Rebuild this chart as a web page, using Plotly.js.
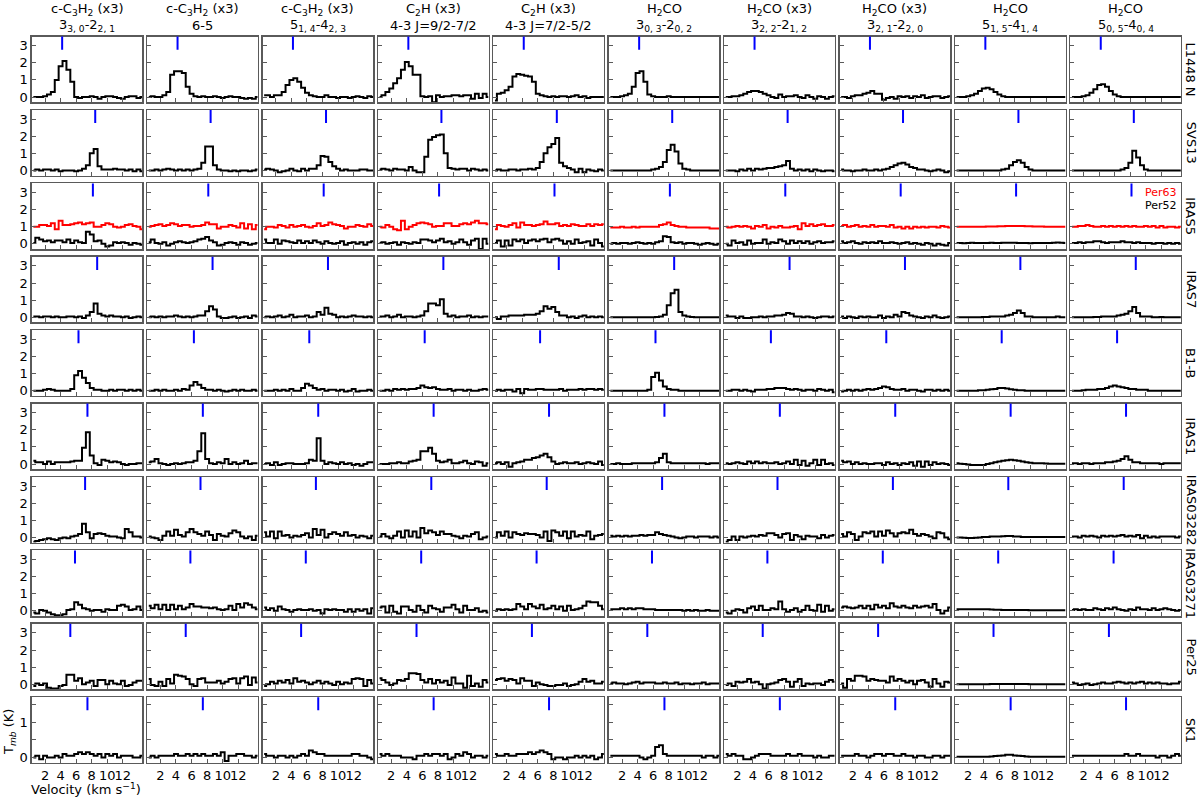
<!DOCTYPE html>
<html>
<head>
<meta charset="utf-8">
<script src="https://cdn.plot.ly/plotly-3.0.1.min.js"></script>
<style>html,body{margin:0;padding:0;background:#fff}#chart{width:1200px;height:800px}</style>
</head>
<body>
<div id="chart"></div>
<script>
// ---------------- DATA ----------------
const sources = ['L1448 N','SVS13','IRAS5','IRAS7','B1-B','IRAS1','IRAS03282','IRAS03271','Per25','SK1'];
const vlsr = [4.2, 8.45, 8.15, 8.7, 6.3, 7.45, 7.15, 5.85, 5.25, 7.45];
const transLine1 = ['c-C<sub>3</sub>H<sub>2</sub> (x3)','c-C<sub>3</sub>H<sub>2</sub> (x3)','c-C<sub>3</sub>H<sub>2</sub> (x3)','C<sub>2</sub>H (x3)','C<sub>2</sub>H (x3)','H<sub>2</sub>CO','H<sub>2</sub>CO (x3)','H<sub>2</sub>CO (x3)','H<sub>2</sub>CO','H<sub>2</sub>CO'];
const transLine2 = ['3<sub>3, 0</sub>-2<sub>2, 1</sub>','6-5','5<sub>1, 4</sub>-4<sub>2, 3</sub>','4-3 J=9/2-7/2','4-3 J=7/2-5/2','3<sub>0, 3</sub>-2<sub>0, 2</sub>','3<sub>2, 2</sub>-2<sub>1, 2</sub>','3<sub>2, 1</sub>-2<sub>2, 0</sub>','5<sub>1, 5</sub>-4<sub>1, 4</sub>','5<sub>0, 5</sub>-4<sub>0, 4</sub>'];
const xTicks = [2,4,6,8,10,12];
const yTicks = [0,1,2,3];
const yTicksSK1 = [0,0.5,1,1.5];
const yTickTextSK1 = ['0','','1',''];
const velocity = [0.5,1,1.5,2,2.5,3,3.5,4,4.5,5,5.5,6,6.5,7,7.5,8,8.5,9,9.5,10,10.5,11,11.5,12,12.5,13,13.5,14,14.5];

const specL1448N = [
 [0,0,0,0.05,0.15,0.3,1.0,1.8,2.1,1.6,0.9,0,-0.05,0,0,0.05,0,-0.1,0,0.05,0.05,0,-0.05,-0.1,0,0.05,0.05,-0.05,0],
 [0,0.05,0,0,0.1,0.3,1.3,1.5,1.5,1.4,0.6,0.2,0.05,0,0.05,0,0,0.05,0,-0.05,0,0.05,0,0,-0.05,-0.1,-0.05,-0.1,0],
 [0.1,0.1,0,0.1,0.1,0.3,0.7,1.0,1.1,0.9,0.55,0.25,0.1,0.05,0,0,0.1,0,0,-0.05,0,0,-0.05,0,0.05,0,-0.05,0.05,0],
 [0,0.1,0.3,0.5,0.8,1.1,1.6,2.05,1.8,1.3,1.3,0.05,0,0.05,-0.3,0.1,0,0.05,0.05,0.1,0.1,0.05,0.1,0.1,-0.1,0.2,-0.05,0.2,0],
 [-0.2,0.2,0.25,0.4,0.6,1.2,1.35,1.3,1.25,1.2,0.9,0.2,0.1,0.05,0,0.05,0,0.05,0.05,0,0.05,0.1,0,0.05,-0.05,0,0,0,0],
 [0,0,0,0.05,0.1,0.2,0.6,1.4,1.5,0.9,0.15,0.05,0,0,0,0.05,0,0,0,0,0,0,0,0,0,0,0,0,0],
 [0,0,0.05,0.05,0.1,0.2,0.3,0.35,0.35,0.3,0.2,0.1,0,-0.05,0.15,0,0.05,0.05,0.1,0,-0.05,0.1,0,-0.1,0.05,0,-0.1,0,0.05],
 [0,0,-0.05,0.05,0.1,0.1,0.2,0.25,0.35,0.2,0.2,-0.15,-0.05,0,-0.1,0.05,0,0.05,-0.05,0.05,0,0.1,-0.05,0,0.05,0.05,-0.05,0,0.05],
 [0,0,0,0.05,0.1,0.2,0.35,0.5,0.55,0.45,0.3,0.15,0.05,0,0,0,0,0,0,0,0,0,0,0,0,0,0,0,0],
 [0,0,0,0.05,0.1,0.25,0.45,0.7,0.75,0.6,0.35,0.15,0.05,0,0,0,0,0,0,0,0,0,0,0,0,0,0,0,0]
];
const specSVS13 = [
 [0,0.05,0,0.05,0.05,0,0.05,-0.05,0,0,0,-0.05,0,0.1,0.3,1.0,1.25,0.25,0.05,0.05,0.05,0.1,0.05,0.05,0,0.05,-0.05,0.05,-0.05],
 [0,0,0.05,0,0.05,0.1,0.05,0,0.05,0,0.05,0,0.05,0.1,0.45,1.4,1.4,0.3,0.05,0,0,-0.05,0,-0.05,0,0,-0.05,0,0.05],
 [0.05,0.1,0.05,0,-0.1,-0.05,0,0.1,0,-0.05,0.1,0,0.1,0.1,0.3,0.85,0.8,0.5,0.25,0.1,0,0.05,0,0,0,0.05,0.05,0,0],
 [0.05,0.1,0.05,0,0.1,0.05,0.05,0,0.2,0,-0.1,-0.1,0.8,1.8,1.95,2.05,2.1,1.0,0.15,0.1,0.05,0.1,0.1,0,0.1,0.05,0,0.05,0],
 [0,0.05,0,0,0.05,0.05,0,0.05,0.05,0.1,0.05,0.15,0.5,1.0,1.35,1.55,1.9,0.45,0.25,0.15,0.05,-0.1,0.1,-0.1,0.05,0,-0.05,0.05,0],
 [0,0,0,0,0,0,0,0,0,0,0,0.05,0.1,0.2,0.5,1.2,1.5,1.1,0.4,0.1,0.05,0,0,0,0,0,0,0,0],
 [0,0,0,-0.05,0.05,0,0.1,0,0.1,0.05,0.1,0.15,0.15,0.2,0.25,0.3,0.55,0.1,0,0.05,0,0.05,-0.05,0.05,0,-0.05,0,0,-0.05],
 [0.05,0,0,-0.05,0,0,0.05,0,0,0.05,0,0.05,0.1,0.2,0.3,0.4,0.45,0.35,0.2,0.15,0.05,0.05,0,-0.05,0,0.05,0,-0.1,-0.05],
 [0,0,0,0,0,0,0,0,0,0,0,0,0.05,0.1,0.3,0.5,0.6,0.45,0.2,0.05,0,0,0,0,0,0,0,0,0],
 [0,0,0,0,0,0,0,0,0,0,0,0,0,0.05,0.15,0.45,1.15,0.75,0.3,0.05,0,0,0,0,0,0,0,0,0]
];
const specPer52 = [
 [0.05,0.35,0.25,0.15,0.2,0.1,0.2,0.2,0.1,0.25,0.05,0.2,0.1,0.05,0.7,0.55,0.15,0.2,0,-0.15,-0.1,0.1,0.05,0.1,0.05,-0.05,0.05,0,-0.05],
 [0.1,0.25,0.05,0,0.1,-0.1,0,0.1,0.15,0.1,0.05,0.1,0.15,0.25,0.3,0.4,0.2,0.1,-0.1,-0.05,0.05,0.1,0.05,-0.05,0.1,0.05,-0.05,0,0.05],
 [0.25,0.05,0.05,0.25,0,0.2,0.15,0.1,0.05,0.2,0.05,0.15,0.05,0.2,0.1,0,0.15,0.05,0,0.05,0.15,-0.05,0.05,0.1,0,0.1,-0.05,0.1,0.15],
 [0.05,0.1,0,0.05,0.1,-0.05,0.1,0.05,0,0.1,0.05,0.25,0.25,0.2,0.1,0.2,0.3,0.1,0.15,0,0.1,0.25,0.1,-0.05,0.2,0.3,-0.3,0.3,0],
 [0.05,0.2,-0.15,0.2,-0.1,0.25,0.15,0.25,0.05,0.2,0.25,0.15,0.25,0.3,0.1,0.25,0.3,0.2,0,0.15,0,0.25,0.05,0.1,0.15,-0.1,0.25,0.05,-0.15],
 [0,0.05,0,0.05,0.05,0,0.05,0.1,0.05,0,0.05,0,0.1,0.15,0.45,0.4,0.1,0.05,0.1,0,0.05,0.05,0,-0.05,0,0.05,0,-0.05,0],
 [0,-0.1,0.2,0.05,0.1,-0.05,0.2,0,0.05,0.05,0.25,0,0.1,0.05,0.25,0.15,0,0.2,0.05,0.15,0.05,0.15,0,0.1,0.15,0.05,0.1,0.1,0.15],
 [0.15,0.05,0.1,0.15,0.05,0,0.1,0.05,0.1,0.05,0.15,0.05,0.05,0.1,0.05,0,0.05,0.1,0,0.05,0,-0.05,0.05,0,-0.1,0,-0.05,-0.1,0.05],
 [0.05,0.05,0.04,0.05,0.06,0.05,0.05,0.05,0.05,0.06,0.05,0.05,0.06,0.06,0.07,0.06,0.05,0.05,0.05,0.04,0.05,0.05,0.05,0.05,0.05,0.06,0.08,0.06,0.05],
 [0.05,0.05,0.1,0.05,0.1,0.1,0.15,0.15,0.1,0.05,0.1,0.1,0.1,0.15,0.1,0.1,0.05,0.1,0.05,0.05,0.05,0,0.05,0.05,0,0.05,0,0.05,0]
];
const specPer63 = [
 [1.0,1.0,1.1,1.1,1.05,1.2,0.85,1.35,1.1,1.1,1.15,1.2,1.25,1.15,1.2,1.25,1.0,1.0,1.1,1.2,1.15,1.0,0.95,1.0,1.1,1.15,1.05,1.0,0.85],
 [1.0,1.05,1.1,1.15,1.05,1.1,1.2,1.15,1.05,1.1,1.1,1.0,1.05,1.05,1.1,1.25,1.15,1.15,0.9,1.0,1.0,1.1,1.05,0.95,1.2,0.9,1.15,0.85,1.1],
 [0.85,1.0,1.0,0.95,1.1,1.05,0.95,1.1,1.0,1.05,1.1,1.0,0.95,1.05,1.2,1.05,1.1,1.25,1.15,1.1,1.05,0.9,1.0,1.0,1.1,1.05,1.0,1.15,1.05],
 [1.0,0.95,1.1,1.0,0.85,0.8,1.35,0.85,1.0,1.1,1.2,1.25,1.2,1.15,1.0,1.05,1.05,1.2,1.2,1.05,1.05,1.15,1.2,1.15,1.25,1.35,1.2,1.2,1.15],
 [0.85,1.1,1.05,1.0,1.1,1.2,0.95,1.25,1.1,1.1,1.05,1.1,1.15,1.3,1.15,1.15,1.2,1.05,1.1,1.05,1.15,1.1,1.05,1.05,1.15,1.05,1.15,1.1,1.15],
 [0.95,0.95,0.95,1.0,0.95,0.95,1.0,0.95,1.0,1.0,1.0,1.0,1.0,1.1,1.15,1.25,1.1,1.05,1.0,1.0,0.95,0.95,0.95,0.95,0.95,0.95,0.9,0.9,0.9],
 [1.0,0.95,1.0,1.05,1.0,1.05,1.0,0.9,1.05,1.0,1.1,0.9,1.0,0.95,1.05,0.95,0.95,1.0,1.05,0.85,1.2,1.05,1.15,1.05,1.1,1.15,1.05,1.05,1.1],
 [1.05,1.1,1.0,1.05,1.1,1.0,1.05,1.0,1.1,1.0,1.05,1.05,1.0,1.1,0.95,1.0,0.9,1.0,0.9,1.0,0.95,1.0,0.95,1.0,1.0,0.95,1.05,1.0,0.95],
 [1.0,1.0,1.0,1.0,1.0,1.0,1.0,1.0,1.02,1.02,1.02,1.03,1.03,1.04,1.05,1.05,1.05,1.04,1.03,1.03,1.02,1.02,1.01,1.0,1.0,1.0,1.0,1.0,1.0],
 [1.0,1.0,1.05,1.05,1.1,1.05,1.0,1.0,1.05,1.0,1.05,1.0,1.05,1.0,1.05,1.0,1.05,1.0,1.0,1.05,1.0,1.05,0.95,1.05,0.95,1.0,1.0,0.95,1.0]
];
const specIRAS7 = [
 [0.05,0.05,0,0.05,0.05,0,0.05,0,0,0.05,0.05,0,0.05,-0.05,0.1,0.3,0.8,0.2,0.1,0.05,0.1,0.05,0.05,0,0.05,-0.05,0,0.05,0],
 [0,0.05,0,0.05,0,0.05,0.05,0.1,0.05,0,0.05,0,0.05,0.1,0.1,0.35,0.65,0.45,0.05,-0.05,-0.05,0,0.05,-0.05,0,0.05,-0.05,0.1,0.05],
 [0,0.05,0,0.05,0.1,0,0.05,0.15,0,0.05,0.05,0.1,0,0.05,0.3,0.15,0.55,0.2,0.15,0,0.05,0,0.05,0.1,0.05,0.05,0,0.05,0],
 [0.05,0.05,0.1,0,0.05,0.15,0,0.05,0.05,0,0.05,0.1,0.35,0.8,0.8,0.7,1.05,0.2,0.05,0.1,0,0.05,0.05,0.1,0,0.05,0,0.05,0.05],
 [0,-0.1,0.05,0.05,0.1,0.1,0.1,0.1,0.15,0.15,0.15,0.2,0.35,0.65,0.5,0.6,0.3,0.1,0.1,0,0.05,-0.05,0.05,0.1,0,0.05,0,0.05,0],
 [0,0,0,0,0,0,0,0,0,0,0,0,0.02,0.05,0.15,0.7,1.4,1.6,0.3,0.1,0.05,0.02,0,0,0,0,0,0,0],
 [0.1,0.05,0.05,-0.05,0.05,-0.05,-0.05,0,0,0.05,0,0.05,0.05,0.1,0.1,0.15,0.25,0.2,0.05,0.05,0,0.05,0,-0.05,0,0.05,0.05,0,0.05],
 [0.05,-0.05,0.05,0,-0.05,0.05,0,0.05,0,0,0.1,-0.05,0.05,0,0.15,0.05,0.3,0.25,0.1,0.05,0,-0.05,0.05,0,0.1,0,-0.05,0,0.05],
 [0,0,0,0,0,0,0,0.02,0.02,0.05,0.05,0.05,0.05,0.1,0.15,0.25,0.4,0.25,0.05,0.05,0,0,0,0,0,0,0.05,0,0],
 [0,0,0,0,0,0,0.02,0.02,0.05,0.05,0.05,0.05,0.1,0.15,0.2,0.35,0.6,0.25,0.05,0.05,0.05,0,0,0.02,0,0,0,0,0]
];
const specB1B = [
 [0,0,0,0.05,0.1,0.05,0,0,0,0,0.1,0.9,1.15,0.75,0.45,0.15,0.05,0.05,0,0,0.05,0,0.05,0.05,0,0.05,0,0.05,0],
 [0,0,0.05,0,0.05,0,0,0.05,0,0.1,0.05,0.3,0.5,0.35,0.15,0.05,0.05,0,0.05,0,-0.05,0,0.05,0,0.05,0,0,0.05,0],
 [0,0,0,0.05,0,0.05,0,0.1,0,0,0.15,0.4,0.3,0.15,0.05,0.1,0,0.05,0.05,0,0.05,-0.05,0,0.1,-0.05,0,0,0.05,0],
 [0,0,0.05,0,0.1,0.05,0.1,0.05,0.1,0.1,0.15,0.3,0.2,0.15,0.2,0.1,0.05,0.05,0.1,0,0.05,0.05,0,0.05,0,0,0.05,0.1,0.05],
 [0,0.05,0,0.05,0.05,-0.05,0.1,-0.15,0.1,0.05,0.05,0.1,0.1,0.05,0.05,0.05,0.05,0.1,0,0.05,0.05,0.05,0.1,0.05,0.1,0.1,0.05,0.1,0.05],
 [0,0,0,0,0,0,0,0,0,0,0.05,0.8,1.05,0.6,0.25,0.1,0.05,0.05,0,0,0,0,0,0,0,0,0,0,0],
 [0,0,0.05,0.05,0,0.05,0,-0.05,0.05,0.05,0.05,0.1,0.1,0.15,0.15,0.15,0.1,0.05,0.1,0.05,0,0.05,0.05,0,0.1,0.05,0,0.05,-0.1],
 [-0.05,0,0.05,0,0.05,0,0.05,0.1,0.05,0.1,0.15,0.25,0.2,0.1,0.05,0.05,0.1,0,0.05,0.05,0,-0.05,0.05,0.05,0,0.05,0,0.05,0],
 [0,0,0,0,0,0,0.02,0.03,0.05,0.08,0.1,0.15,0.15,0.12,0.08,0.05,0.03,0.02,0,0,0,0,0,0,0,0,0,0,0],
 [0,0,0,0.02,0.05,0.05,0.05,0.1,0.1,0.15,0.25,0.3,0.25,0.2,0.15,0.1,0.1,0.05,0.05,0.05,0,0,0,0,0,0,0,0,0]
];
const specIRAS1 = [
 [0.2,0.1,0.1,0,0.15,0,0.1,0.1,0.1,0.1,0.15,0.2,0.2,0.95,1.85,0.5,0.05,-0.05,0.25,0.2,0.1,0.15,0.1,0,-0.05,0,0,0.05,0.05],
 [0.1,0.15,0.3,0.05,0,-0.05,0,0.05,0,0.05,0.1,0.1,0.2,0.75,1.8,0.3,0.05,0,0.1,0.05,0.3,0,0.1,0,0.05,0.2,0,0.05,0.05],
 [0,0.05,-0.05,0.1,-0.05,0,0.05,0.05,0,0,0,0.05,0.25,0.2,1.5,0.2,0,0.1,0.05,0,0.1,0,0.05,-0.05,0,-0.1,0,0.1,0.1],
 [0,0,0,0.05,0.05,0.1,0.05,0.05,0.15,0.2,0.25,0.75,0.75,0.95,0.6,0.2,0.1,0.15,0.25,0.05,0.05,0.1,0.2,0.05,0,0.15,0.1,-0.1,0.05],
 [0.05,0.1,0,0.1,-0.15,0.05,0.1,0.15,0.25,0.25,0.35,0.4,0.5,0.6,0.4,0.15,0,0.05,0.1,0.05,0.05,0.1,0,0.05,0.1,0.05,0,0.15,-0.05],
 [0,0,0.05,0,0,0,0.05,0.05,0.05,0.05,0.05,0.05,0.1,0.35,0.6,0.1,0.05,0.05,0.05,0.05,0.05,0.05,0.05,0.05,0.05,0,0.05,0.05,0.05],
 [0.05,0,0.05,0.1,0.05,0,0.15,0.05,0.15,0.05,0.1,0.05,0.05,0.1,0,0.05,0.15,0,0.25,-0.05,0.2,-0.1,0.05,0.25,-0.05,0.25,0,0.05,-0.05],
 [0.2,0.1,0.15,0,0.1,0,0.05,0,0,0.05,0.05,-0.05,0.1,0,0.05,-0.05,0.05,0,0.1,-0.1,0.15,-0.15,0.15,-0.05,0.1,0,0.05,0,-0.05],
 [0.05,0.02,0,-0.03,-0.05,-0.05,-0.05,-0.05,0,0.05,0.1,0.15,0.2,0.22,0.25,0.22,0.2,0.15,0.1,0.08,0.05,0.05,0.05,0.03,0.02,0.02,0.02,0.02,0.02],
 [0.05,0.05,0,0.05,0.05,0,0.05,0.05,0.05,0.1,0.1,0.15,0.2,0.3,0.45,0.25,0.1,0.1,0.05,0.05,0.05,0.05,0.05,0,0.05,0.05,0.05,0.05,0.05]
];
const specIRAS03282 = [
 [-0.25,-0.2,-0.15,-0.1,-0.05,-0.1,-0.15,-0.05,0,-0.05,0.05,0.1,0.2,0.8,0.3,-0.05,0.2,0.25,0.2,0.1,0.05,0.05,0,-0.05,0.5,0.3,0.05,0.05,0],
 [0.05,0,-0.05,-0.15,0.1,0.35,0.1,0.45,0.15,0.05,0.3,0.5,0.3,0.2,0.1,0.35,0.15,-0.15,0.2,0.1,0.05,0.25,0.4,0.3,0.05,-0.05,0.05,-0.15,0.1],
 [0.3,0.05,0.35,-0.05,0.35,0.1,0.15,0,0.1,0.05,0.15,0.25,0,0.5,0.15,0.45,0,0.2,0.3,0.2,0.1,0.3,0.1,0.15,0,0.1,0.05,-0.05,0.1],
 [0.05,0.2,0.05,-0.05,0.1,0.35,0,0.4,0.05,0.35,0,0.55,0.25,0.4,0.3,0.15,0.35,0.2,0.2,0.1,0.05,-0.05,0.1,0.05,0.2,0.3,-0.1,0,0.05],
 [0,0.3,0.1,0.35,0,0.3,0.2,0.15,0.25,0.2,0.2,0.15,0,0.35,-0.2,0.4,0.3,0.1,0.35,-0.05,0.35,0.05,0.15,0.1,0.35,-0.1,0.1,0.15,0.2],
 [0.1,0.05,0.1,0.05,0.1,0.05,0.1,0.1,0.15,0.1,0.15,0.15,0.3,0.2,0.15,0.1,0.05,0,-0.05,0,0.05,0.05,0,0.05,0.05,0.05,0,0.05,0],
 [-0.25,-0.15,0.05,-0.15,0.05,0,0.05,0.1,0.05,0.15,0.1,0.25,0.25,0.15,0,0.2,0.25,-0.15,0.15,0.05,-0.1,0.1,0.05,0.05,-0.05,0.15,0,0.1,0.15],
 [0.2,0.05,0.3,0.2,-0.15,0.05,0.3,0.25,0.35,0.05,0.35,0.1,0.4,0.25,0.05,0.25,0.3,0.25,0.45,0.2,0.1,0.2,0.15,0.05,-0.05,0.3,0.25,0,-0.1],
 [0,0,-0.02,-0.03,-0.03,-0.02,0,0.02,0.03,0.05,0.05,0.05,0.07,0.08,0.08,0.06,0.05,0.03,0.02,0.02,0.03,0.03,0.03,0.03,0.03,0.02,0.02,0.02,0.02],
 [0.05,0.05,0,0.1,0.05,0.1,0.05,0,0.1,0.05,0.1,0.05,0.1,0.15,0.05,0.1,0.05,0.15,-0.05,0.1,0,0.05,0,0.05,0.05,0.05,0.05,0,0.05]
];
const specIRAS03271 = [
 [-0.1,-0.15,0.05,0,-0.1,-0.2,-0.25,-0.25,-0.2,0.05,0.1,0.5,0.35,0.15,0.1,0,0.05,0.05,-0.05,0.1,0.05,0.05,0.3,0.35,0.25,0.05,0.1,0.25,0.05],
 [0.3,0.15,0.35,0.1,0.35,0.05,0.35,0.1,0.3,0.1,0.2,0.4,0.25,0.25,0.2,0.2,0.15,0.2,0.1,0.05,0.1,0.3,0.05,0.4,0.2,0.45,0.35,0.2,0.1],
 [0.2,0.05,0.15,0,0.25,0.1,0.05,-0.05,0.05,0.1,0.05,0.05,0.1,0,0.05,-0.15,0.1,0.05,0.1,0.05,0.05,-0.05,0.1,-0.05,0.1,0,0.1,-0.15,0.15],
 [0.2,0.25,-0.1,0.3,-0.05,-0.15,0.25,0.25,0.05,-0.05,0.3,0.05,-0.1,0.3,0.15,0.1,-0.05,0.2,0.2,0.35,0.1,-0.1,0.3,0.05,0.05,0.15,-0.05,0,-0.1],
 [0,0.1,0.05,0.1,0.05,0.1,0.4,0.25,0.1,0.4,0.25,0.15,0.35,0.1,0.15,0.3,0.1,0.25,0,0.3,0.05,0.1,0.15,0.3,0.55,0.5,0.5,0.3,0.1],
 [0.1,0.1,0.1,0.15,0.1,0.15,0.1,0.15,0.15,0.1,0.1,0.1,0.05,0.05,0.05,0.05,0.05,0.05,0.05,0,0.05,0,0.05,0,0,0.05,0,0,0],
 [-0.1,-0.15,0,0.1,0.05,-0.1,0.15,0.25,0.05,0.3,0.05,0.05,0.15,0.1,0.55,0.1,-0.05,0.05,0.15,-0.05,0.05,0.3,0.05,0,0.35,-0.05,0.3,0,0.1],
 [0.2,0.25,0.2,0.15,0.2,0.3,0.15,0.3,0.1,0.35,0.2,0.3,0.15,0.45,0.25,0.2,0.3,0.2,0.15,0.3,0.2,0.25,0.3,0.2,0.4,0.05,-0.15,0,0.2],
 [0.1,0.1,0.1,0.1,0.1,0.1,0.1,0.1,0.1,0.08,0.07,0.07,0.05,0.05,0.05,0.05,0.05,0.05,0.05,0.03,0.03,0.03,0.03,0.03,0.03,0.03,0.03,0.03,0.03],
 [0.05,0.1,0.05,0.1,0.05,0.05,0.15,0.1,0.05,0.15,0.1,0.2,0.1,0.05,0,0.1,0.05,0.2,0.1,0.1,0.05,0.15,0.05,0.1,0.15,0.1,0.05,0,0.05]
];
const specPer25 = [
 [-0.1,0.05,-0.05,0.05,-0.2,-0.25,-0.25,-0.1,-0.05,0.55,0.55,0.2,0.35,0,0.1,0.2,-0.1,0.25,0.25,0,0.2,0.05,0,0.2,-0.1,-0.05,0.1,0.2,0.2],
 [0.3,-0.05,-0.1,0.15,-0.1,0.3,0.05,0.55,0.5,0.45,0.3,0,-0.1,0.3,0.35,0.1,0.1,0.1,0.2,0.05,0.15,0.3,0.35,0.05,0.35,0.45,-0.05,0.4,0.1],
 [-0.1,0,0.15,0.05,0.2,0.1,0.25,0.05,0.35,0.15,0.2,0.1,0,0.1,0.2,0.05,0.15,0.05,-0.05,0.15,0,0.1,0.05,0.3,0.35,0.3,-0.1,0.25,0.05],
 [0.35,0.25,0.1,-0.05,0.05,0.25,0.2,0.3,0.65,0.65,0.6,0.25,0.1,0.3,0.05,0.25,0.1,0.2,-0.05,0.4,0.05,0.05,-0.2,0.5,-0.1,0.05,-0.15,0.25,0.1],
 [0.25,0.3,0.35,0.2,0.3,0.25,0.05,0.35,0.2,0.2,-0.1,0.1,0,-0.05,-0.1,-0.1,-0.05,-0.05,0.05,-0.1,-0.05,0,0.15,0.3,0.15,0.2,0.05,0.05,0.15],
 [0.05,0.1,0.05,0.05,0,0.05,0.1,0.15,0.05,0.1,0.1,0.1,0.05,0.05,0.1,0.05,0.05,0.1,0,0.05,0.05,0,0.05,0.05,0.1,0,0.05,0.05,0.05],
 [-0.05,0.05,-0.1,0.15,0.1,0.15,0.3,0.1,0.15,0,-0.25,0,0.05,0.1,0.25,0.3,0.15,-0.15,0.15,0.3,-0.1,0.05,0,0.05,0.05,-0.05,0.15,0.25,0.15],
 [0.05,-0.2,0.3,0.2,0.5,0.5,0.45,0.2,0.3,0.25,0.2,0.2,0.1,0.45,0.2,0.3,0.2,0.1,0.2,0,0.2,0.25,0.1,-0.15,0.3,0.05,-0.15,0.15,0.1],
 [0,0,0,0,0,0,0,0,0,0.01,0.02,0.02,0.02,0.02,0.02,0.02,0.02,0.02,0.01,0,0,0,0,0,0,0,0,0,0],
 [0.1,0.05,-0.05,0,0.05,-0.05,0,0.05,0.1,0.05,0.05,0.1,0.15,0.1,0.05,0.1,0.05,0.1,0.15,0.05,0.1,0.05,0.1,0.05,0.05,0,0.05,0.05,0.15]
];
const specSK1 = [
 [0,0.05,-0.05,0.05,0,0,0.05,0,0.1,0.05,0.05,0.1,0.15,0.1,0.15,0.1,0.05,0.1,0,0.1,0.05,0.1,0,0.05,0.05,0.05,0,0,0.05],
 [0,0.05,0,0.05,0.05,0.05,0.05,0.1,0.05,0.05,0.1,0.05,0.1,0.05,0.1,0.05,0.05,0.1,0.05,0.15,-0.1,0.05,0.05,0.1,0.1,0.05,0.05,0,0.05],
 [0.1,0.05,0.05,0,0.05,0.05,0,0.05,0,0.05,0.1,0.05,0.2,0.15,0.1,0.1,0.05,0.05,0.05,0.05,0.05,0.05,0.05,0.1,0.1,0.05,0.05,0,-0.05],
 [0.1,0.05,0.1,0.05,0.05,0.05,0,0,0,-0.05,0.05,0.05,0.1,0.05,0.1,0.1,0.05,0.1,-0.05,0,0.1,0.05,0.15,0.1,0,0.05,0.05,0,0.05],
 [0.1,0.05,0.05,0.1,0.05,0.05,0.1,0.1,0.1,0.15,0.1,0.15,0.2,0.15,0.1,-0.05,0,0,-0.05,0,0,0.05,0,0.05,0,0.05,-0.05,0,0.1],
 [0.05,0.05,0.05,0.05,0.05,0.05,0.05,0.05,0,-0.05,0,0.05,0.3,0.35,0.1,0.05,0.05,0.05,0.05,0.05,0.05,0.05,0.05,0.05,0,0.05,0.05,0,0.05],
 [0.1,0.05,0.1,0.05,0.05,-0.05,-0.05,0,0.05,0.1,0.1,0.1,0.05,0.05,0.05,0.05,0.1,0.05,0.05,0.1,0.05,0.05,0.05,0,0.05,0,0,0.05,0.05],
 [0.05,0.05,0.05,0.05,0.1,0.05,0.05,0,0.05,0.1,0.1,0.05,0.1,0.1,0.05,0.05,0.1,0.05,0.05,0,0.05,0.05,0,0,0.05,0.05,0,0.05,0.05],
 [0.02,0.02,0.02,0.02,0.02,0.02,0.02,0.02,0.02,0.03,0.04,0.05,0.06,0.08,0.08,0.06,0.05,0.04,0.03,0.02,0.02,0.02,0.02,0.02,0.02,0.02,0.02,0.02,0.02],
 [0.05,0.05,0.05,0.05,0.05,0.05,0.05,0.05,0.05,0.05,0.05,0.05,0.05,0.05,0.1,0.05,0.05,0.1,0.05,0.05,0.05,0.05,0,0.05,0.05,0,0.05,0.1,0.05]
];
const allSpectra = [specL1448N, specSVS13, specPer52, specIRAS7, specB1B, specIRAS1, specIRAS03282, specIRAS03271, specPer25, specSK1];
const legendNames = ['Per63','Per52'];

// ---------------- LAYOUT ----------------
const W = 1200, H = 800;
const colLeft0 = 31.8, colPitch = 115.4, colW = 110.5;
const rowTop0 = 36.6, rowPitch = 73.4, rowH = 65.6;
const FONT = 'DejaVu Sans, sans-serif';
const frameColor = '#5a5a5a';

const traces = [];
const layout = {
  width: W, height: H,
  margin: {l:0, r:0, t:0, b:0},
  paper_bgcolor: '#ffffff', plot_bgcolor: '#ffffff',
  showlegend: false,
  font: {family: FONT, size: 13, color: '#000'},
  annotations: [], shapes: []
};

for (let r = 0; r < 10; r++) {
  for (let c = 0; c < 10; c++) {
    const idx = r*10 + c + 1;
    const xa = 'x' + (idx === 1 ? '' : idx);
    const ya = 'y' + (idx === 1 ? '' : idx);
    const xk = 'xaxis' + (idx === 1 ? '' : idx);
    const yk = 'yaxis' + (idx === 1 ? '' : idx);
    const L = colLeft0 + colPitch*c;
    const T = rowTop0 + rowPitch*r;
    const isSK1 = (r === 9);
    layout[xk] = {
      domain: [L/W, (L+colW)/W], anchor: ya,
      range: [0.3, 14.5], showgrid: false, zeroline: false,
      showline: true, mirror: true, linecolor: frameColor, linewidth: 1.5,
      ticks: 'inside', ticklen: 4, tickwidth: 1, tickcolor: frameColor,
      tickmode: 'array', tickvals: xTicks, ticktext: xTicks.map(String),
      tickangle: 0, automargin: false,
      showticklabels: r === 9,
      tickfont: {family: FONT, size: 13, color: '#000'}
    };
    layout[yk] = {
      domain: [1-(T+rowH)/H, 1-T/H], anchor: xa,
      range: isSK1 ? [-0.15, 1.71] : [-0.3, 3.53],
      showgrid: false, zeroline: false,
      showline: true, mirror: true, linecolor: frameColor, linewidth: 1.5,
      ticks: 'inside', ticklen: 4, tickwidth: 1, tickcolor: frameColor,
      tickmode: 'array',
      tickvals: isSK1 ? yTicksSK1 : yTicks,
      ticktext: isSK1 ? yTickTextSK1 : yTicks.map(String),
      tickangle: 0, automargin: false,
      showticklabels: c === 0,
      tickfont: {family: FONT, size: 13, color: '#000'}
    };
    if (r === 2) {
      traces.push({x: velocity, y: specPer63[c], xaxis: xa, yaxis: ya, mode: 'lines',
        line: {shape: 'hvh', color: '#ff0000', width: 2}, hoverinfo: 'skip'});
    }
    traces.push({x: velocity, y: allSpectra[r][c], xaxis: xa, yaxis: ya, mode: 'lines',
      line: {shape: 'hvh', color: '#000000', width: 2}, hoverinfo: 'skip'});
    layout.shapes.push({type: 'line', xref: xa, yref: ya + ' domain',
      x0: vlsr[r], x1: vlsr[r], y0: 0.8, y1: 1.0,
      line: {color: '#0000ff', width: 2}});
  }
}

// column titles
for (let c = 0; c < 10; c++) {
  const cx = (colLeft0 + colPitch*c + colW/2)/W;
  layout.annotations.push({xref:'paper', yref:'paper', x: cx, y: 1-10/H, text: transLine1[c],
    showarrow:false, xanchor:'center', yanchor:'middle', font:{family:FONT, size:13, color:'#000'}});
  layout.annotations.push({xref:'paper', yref:'paper', x: cx, y: 1-26/H, text: transLine2[c],
    showarrow:false, xanchor:'center', yanchor:'middle', font:{family:FONT, size:13, color:'#000'}});
}
// row labels
for (let r = 0; r < 10; r++) {
  const cy = 1 - (rowTop0 + rowPitch*r + rowH/2)/H;
  layout.annotations.push({xref:'paper', yref:'paper', x: 1191/W, y: cy, text: sources[r],
    textangle: 90, showarrow:false, xanchor:'center', yanchor:'middle', font:{family:FONT, size:13, color:'#000'}});
}
// legend text in IRAS5 / last column panel
layout.annotations.push({xref:'x30 domain', yref:'y30 domain', x: 0.985, y: 0.86, text: legendNames[0],
  showarrow:false, xanchor:'right', yanchor:'middle', font:{family:FONT, size:11, color:'#ff0000'}});
layout.annotations.push({xref:'x30 domain', yref:'y30 domain', x: 0.985, y: 0.665, text: legendNames[1],
  showarrow:false, xanchor:'right', yanchor:'middle', font:{family:FONT, size:11, color:'#000'}});
// axis labels
layout.annotations.push({xref:'paper', yref:'paper', x: 86/W, y: 1-789/H, text: 'Velocity (km s<sup>−1</sup>)',
  showarrow:false, xanchor:'center', yanchor:'middle', font:{family:FONT, size:13, color:'#000'}});
layout.annotations.push({xref:'paper', yref:'paper', x: 9/W, y: 1-732/H, text: 'T<sub><i>mb</i></sub> (K)',
  textangle: -90, showarrow:false, xanchor:'center', yanchor:'middle', font:{family:FONT, size:13, color:'#000'}});

Plotly.newPlot('chart', traces, layout, {displayModeBar:false, staticPlot:true});
</script>
</body>
</html>
